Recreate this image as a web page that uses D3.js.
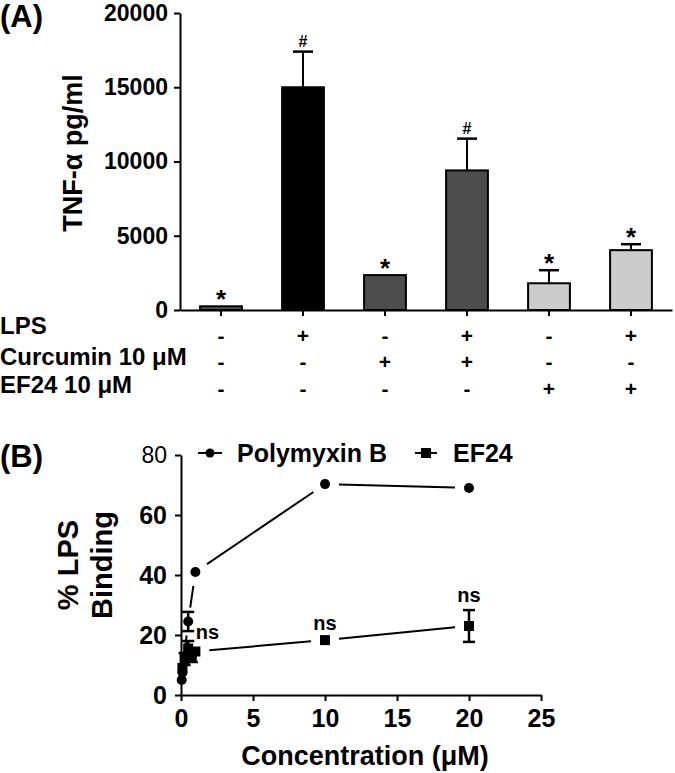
<!DOCTYPE html>
<html>
<head>
<meta charset="utf-8">
<script src="https://cdn.jsdelivr.net/npm/d3@7"></script>
<style>
  body { margin: 0; background: #fff; }
  svg text { font-family: "Liberation Sans", Arial, sans-serif; font-weight: bold; fill: #000; }
  .axis path, .axis line { stroke: #000; stroke-width: 2; }
</style>
</head>
<body>
<div id="container"></div>
<script>
/* CONSTANTS AND GLOBALS */
const width = 675, height = 773

// PANEL A DATA
const groups = ["g1", "g2", "g3", "g4", "g5", "g6"]
const tnfMean = [250, 15000, 2350, 9400, 1800, 4030]
const tnfErr = [0, 2400, 0, 2140, 880, 400]
const tnfMark = ["*", "#", "*", "#", "*", "*"]
const yTicksA = [0, 5000, 10000, 15000, 20000]
const rowLabels = ["LPS", "Curcumin 10 \u03bcM", "EF24 10 \u03bcM"]
const lpsRow = ["-", "+", "-", "+", "-", "+"]
const curRow = ["-", "-", "+", "+", "-", "-"]
const efRow = ["-", "-", "-", "-", "+", "+"]

// PANEL B DATA
const polyConc = [0.05, 0.1, 0.5, 1, 10, 20]
const polyMean = [5, 7.5, 24.5, 41, 70.3, 69]
const polySem = [1, 1.5, 3.2, 0.8, 0.8, 0.8]
const ef24Conc = [0.1, 0.25, 0.5, 0.75, 1, 10, 20]
const ef24Mean = [9, 12, 15.5, 13, 14.5, 18.3, 23]
const ef24Sem = [1.5, 2, 2.5, 2, 1.5, 0.8, 5.3]
const nsIdx = [4, 5, 6]
const xTicksB = [0, 5, 10, 15, 20, 25]
const yTicksB = [0, 20, 40, 60, 80]

const barColors = d3.scaleOrdinal().domain(groups)
  .range(["#555555", "#000000", "#4d4d4d", "#4d4d4d", "#cccccc", "#cccccc"])

const svg = d3.select("#container")
  .append("svg")
  .attr("width", width)
  .attr("height", height)

/* ---------------- PANEL A ---------------- */
const xA = d3.scaleBand()
  .domain(groups)
  .range([180, 672])
  .paddingInner(0.49)
  .paddingOuter(0.245)

const yA = d3.scaleLinear()
  .domain([0, 20000])
  .range([310, 13])

const dataA = groups.map((g, i) => ({ g, mean: tnfMean[i], err: tnfErr[i], mark: tnfMark[i] }))

// error bars (upper only)
const errA = svg.append("g")
errA.selectAll("line.stem")
  .data(dataA.filter(d => d.err > 0))
  .join("line")
  .attr("x1", d => xA(d.g) + xA.bandwidth() / 2)
  .attr("x2", d => xA(d.g) + xA.bandwidth() / 2)
  .attr("y1", d => yA(d.mean))
  .attr("y2", d => yA(d.mean + d.err))
  .attr("stroke", "#000").attr("stroke-width", 2)
errA.selectAll("line.cap")
  .data(dataA.filter(d => d.err > 0))
  .join("line")
  .attr("x1", d => xA(d.g) + xA.bandwidth() / 2 - 10)
  .attr("x2", d => xA(d.g) + xA.bandwidth() / 2 + 10)
  .attr("y1", d => yA(d.mean + d.err))
  .attr("y2", d => yA(d.mean + d.err))
  .attr("stroke", "#000").attr("stroke-width", 2.5)

// bars
svg.selectAll(".bar")
  .data(dataA)
  .join("rect")
  .attr("class", "bar")
  .attr("x", d => xA(d.g))
  .attr("y", d => yA(d.mean))
  .attr("width", xA.bandwidth())
  .attr("height", d => yA(0) - yA(d.mean))
  .attr("fill", d => barColors(d.g))
  .attr("stroke", "#000")
  .attr("stroke-width", 2)

// significance marks
svg.selectAll(".sig")
  .data(dataA)
  .join("text")
  .attr("class", "sig")
  .attr("text-anchor", "middle")
  .attr("x", d => xA(d.g) + xA.bandwidth() / 2)
  .attr("y", d => yA(d.mean + d.err) + (d.mark == "*" ? 2 : -5))
  .style("font-size", d => d.mark == "*" ? "26px" : "16px")
  .text(d => d.mark)

// axes
svg.append("g")
  .attr("class", "axis")
  .attr("transform", `translate(180,0)`)
  .call(d3.axisLeft(yA).tickValues(yTicksA).tickFormat(d3.format("d")).tickSize(6).tickPadding(6).tickSizeOuter(0))
  .call(g => g.selectAll("text").style("font-size", "23px"))

svg.append("g")
  .attr("class", "axis")
  .attr("transform", `translate(0,310)`)
  .call(d3.axisBottom(xA).tickFormat("").tickSize(6).tickSizeOuter(0))

svg.append("text")
  .attr("transform", "translate(82,153) rotate(-90)")
  .attr("text-anchor", "middle")
  .style("font-size", "27px")
  .text("TNF-\u03b1 pg/ml")

svg.append("text")
  .attr("x", 0).attr("y", 27)
  .style("font-size", "31px")
  .text("(A)")

// treatment table
const rowsA = [lpsRow, curRow, efRow]
const labelBase = [334, 365, 393]
const signBase = [343, 369, 396]
rowsA.forEach((row, r) => {
  svg.append("text")
    .attr("x", 0).attr("y", labelBase[r])
    .style("font-size", "24px")
    .text(rowLabels[r])
  svg.selectAll(".sign" + r)
    .data(row)
    .join("text")
    .attr("class", "sign" + r)
    .attr("text-anchor", "middle")
    .attr("x", (d, i) => xA(groups[i]) + xA.bandwidth() / 2)
    .attr("y", signBase[r])
    .style("font-size", "21px")
    .text(d => d)
})

/* ---------------- PANEL B ---------------- */
const xB = d3.scaleLinear().domain([0, 25]).range([181, 541])
const yB = d3.scaleLinear().domain([0, 80]).range([695, 455])

const polyData = polyConc.map((c, i) => ({ c, m: polyMean[i], s: polySem[i] }))
const efData = ef24Conc.map((c, i) => ({ c, m: ef24Mean[i], s: ef24Sem[i] }))

// connecting lines with a gap round each symbol
function gapLines(data) {
  const segs = []
  for (let i = 1; i < data.length; i++) {
    const x0 = xB(data[i - 1].c), y0 = yB(data[i - 1].m)
    const x1 = xB(data[i].c), y1 = yB(data[i].m)
    const len = Math.hypot(x1 - x0, y1 - y0), gap = 14
    if (len > gap * 2 + 4) {
      const ux = (x1 - x0) / len, uy = (y1 - y0) / len
      segs.push([x0 + ux * gap, y0 + uy * gap, x1 - ux * gap, y1 - uy * gap])
    }
  }
  return segs
}

const seriesB = [
  { key: "poly", data: polyData },
  { key: "ef", data: efData }
]
seriesB.forEach(s => {
  svg.append("g").selectAll("line")
    .data(gapLines(s.data))
    .join("line")
    .attr("x1", d => d[0]).attr("y1", d => d[1])
    .attr("x2", d => d[2]).attr("y2", d => d[3])
    .attr("stroke", "#000").attr("stroke-width", 2)

  const eb = svg.append("g")
  eb.selectAll("line.v")
    .data(s.data)
    .join("line")
    .attr("x1", d => xB(d.c)).attr("x2", d => xB(d.c))
    .attr("y1", d => yB(d.m - d.s)).attr("y2", d => yB(d.m + d.s))
    .attr("stroke", "#000").attr("stroke-width", 2.5)
  eb.selectAll("line.t")
    .data(s.data.filter(d => d.s > 1.6))
    .join("line")
    .attr("x1", d => xB(d.c) - 6).attr("x2", d => xB(d.c) + 6)
    .attr("y1", d => yB(d.m + d.s)).attr("y2", d => yB(d.m + d.s))
    .attr("stroke", "#000").attr("stroke-width", 2.5)
  eb.selectAll("line.b")
    .data(s.data.filter(d => d.s > 1.6))
    .join("line")
    .attr("x1", d => xB(d.c) - 6).attr("x2", d => xB(d.c) + 6)
    .attr("y1", d => yB(d.m - d.s)).attr("y2", d => yB(d.m - d.s))
    .attr("stroke", "#000").attr("stroke-width", 2.5)
})

// symbols
svg.selectAll(".polyPt")
  .data(polyData)
  .join("circle")
  .attr("class", "polyPt")
  .attr("cx", d => xB(d.c))
  .attr("cy", d => yB(d.m))
  .attr("r", 5)
  .attr("fill", "#000")

svg.selectAll(".efPt")
  .data(efData)
  .join("rect")
  .attr("class", "efPt")
  .attr("x", d => xB(d.c) - 5)
  .attr("y", d => yB(d.m) - 5)
  .attr("width", 10).attr("height", 10)
  .attr("fill", "#000")

// ns labels
svg.selectAll(".ns")
  .data(nsIdx)
  .join("text")
  .attr("class", "ns")
  .attr("text-anchor", "middle")
  .attr("x", (d, k) => xB(efData[d].c) + (k == 0 ? 12 : 0))
  .attr("y", d => yB(efData[d].m + efData[d].s) - 8)
  .style("font-size", "20px")
  .text("ns")

// axes
svg.append("g")
  .attr("class", "axis")
  .attr("transform", `translate(181,0)`)
  .call(d3.axisLeft(yB).tickValues(yTicksB).tickSize(6).tickPadding(8).tickSizeOuter(0))
  .call(g => g.selectAll("text").style("font-size", "25px"))
  .call(g => g.selectAll("text").filter(d => d == 80).style("font-weight", "normal").style("font-size", "23px"))

svg.append("g")
  .attr("class", "axis")
  .attr("transform", `translate(0,695)`)
  .call(d3.axisBottom(xB).tickValues(xTicksB).tickSize(6).tickPadding(8).tickSizeOuter(0))
  .call(g => g.selectAll("text").style("font-size", "25px"))

svg.append("text")
  .attr("x", 365).attr("y", 765)
  .attr("text-anchor", "middle")
  .style("font-size", "27px")
  .text("Concentration (\u03bcM)")

svg.append("text")
  .attr("transform", "translate(78,565) rotate(-90)")
  .attr("text-anchor", "middle")
  .style("font-size", "29px")
  .text("% LPS")
svg.append("text")
  .attr("transform", "translate(112,565) rotate(-90)")
  .attr("text-anchor", "middle")
  .style("font-size", "29px")
  .text("Binding")

svg.append("text")
  .attr("x", 0).attr("y", 467)
  .style("font-size", "31px")
  .text("(B)")

// legend
const legend = svg.append("g")
legend.append("line").attr("x1", 198).attr("x2", 222).attr("y1", 453).attr("y2", 453)
  .attr("stroke", "#000").attr("stroke-width", 2)
legend.append("circle").attr("cx", 210).attr("cy", 453).attr("r", 4.5).attr("fill", "#000")
legend.append("text").attr("x", 237).attr("y", 462).style("font-size", "25px").text("Polymyxin B")
legend.append("line").attr("x1", 415).attr("x2", 437).attr("y1", 453).attr("y2", 453)
  .attr("stroke", "#000").attr("stroke-width", 2)
legend.append("rect").attr("x", 421).attr("y", 448).attr("width", 10).attr("height", 10).attr("fill", "#000")
legend.append("text").attr("x", 453).attr("y", 462).style("font-size", "25px").text("EF24")
</script>
</body>
</html>
